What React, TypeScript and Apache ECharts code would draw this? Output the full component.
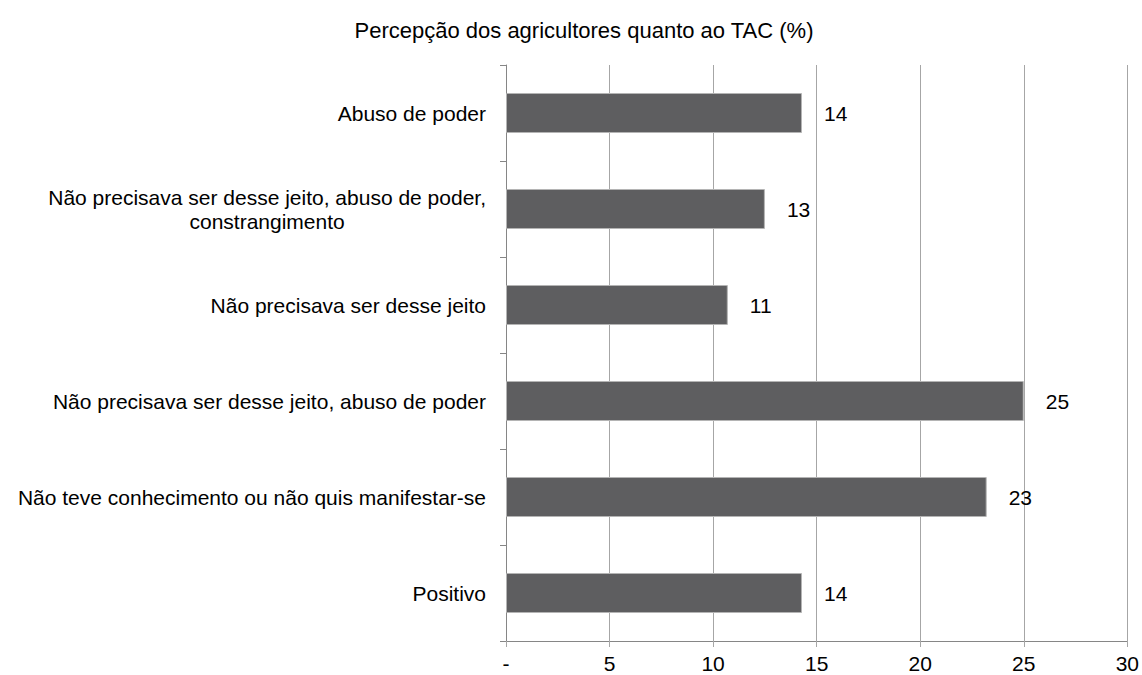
import React, { useEffect, useRef } from "react";
import * as echarts from "echarts";

const title = "Percepção dos agricultores quanto ao TAC (%)";
const categories = [
  "Positivo",
  "Não teve conhecimento ou não quis manifestar-se",
  "Não precisava ser desse jeito, abuso de poder",
  "Não precisava ser desse jeito",
  "Não precisava ser desse jeito, abuso de poder,\nconstrangimento",
  "Abuso de poder",
];
const values = [14.29, 23.21, 25, 10.71, 12.5, 14.29];
const xTickLabels: Record<number, string> = { 0: "-", 5: "5", 10: "10", 15: "15", 20: "20", 25: "25", 30: "30" };

const FONT = "'Liberation Sans', Arial, sans-serif";

export default function App() {
  const ref = useRef<HTMLDivElement>(null);
  useEffect(() => {
    const chart = echarts.init(ref.current!, null, { renderer: "svg" });
    chart.setOption({
      animation: false,
      backgroundColor: "#ffffff",
      title: {
        text: title,
        left: 579,
        top: 14,
        textAlign: "center",
        textStyle: { fontFamily: FONT, fontSize: 22, fontWeight: "normal", color: "#000" },
      },
      grid: { left: 506, right: 13, top: 65, bottom: 34 },
      xAxis: {
        type: "value",
        min: 0,
        max: 30,
        interval: 5,
        axisLine: { show: true, lineStyle: { color: "#868686", width: 1 } },
        axisTick: { show: true, length: 6, lineStyle: { color: "#a6a6a6" } },
        splitLine: { show: true, lineStyle: { color: "#a6a6a6", width: 1 } },
        axisLabel: {
          margin: 12,
          fontFamily: FONT,
          fontSize: 21,
          color: "#000",
          formatter: (v: number) => xTickLabels[v] ?? String(v),
        },
      },
      yAxis: {
        type: "category",
        data: categories,
        axisLine: { show: true, lineStyle: { color: "#868686", width: 1 } },
        axisTick: { show: true, length: 6, lineStyle: { color: "#868686" } },
        splitLine: { show: false },
        axisLabel: {
          margin: 20,
          fontFamily: FONT,
          fontSize: 21,
          color: "#000",
          lineHeight: 24,
          formatter: (v: string) =>
            v
              .split("\n")
              .map((l) => `{c|${l}}`)
              .join("\n"),
          rich: {
            c: { align: "center", fontFamily: FONT, fontSize: 21, color: "#000", lineHeight: 24 },
          },
        },
      },
      series: [
        {
          type: "bar",
          data: values,
          barWidth: 40,
          itemStyle: { color: "#5e5e60", borderColor: "#b4b4b4", borderWidth: 1 },
          label: {
            show: true,
            position: "right",
            distance: 22,
            fontFamily: FONT,
            fontSize: 21,
            color: "#000",
            formatter: (p: any) => Number(p.value).toFixed(0),
          },
        },
      ],
    });
    return () => chart.dispose();
  }, []);
  return <div ref={ref} style={{ width: 1142, height: 675, position: "absolute", left: 0, top: 0 }} />;
}
